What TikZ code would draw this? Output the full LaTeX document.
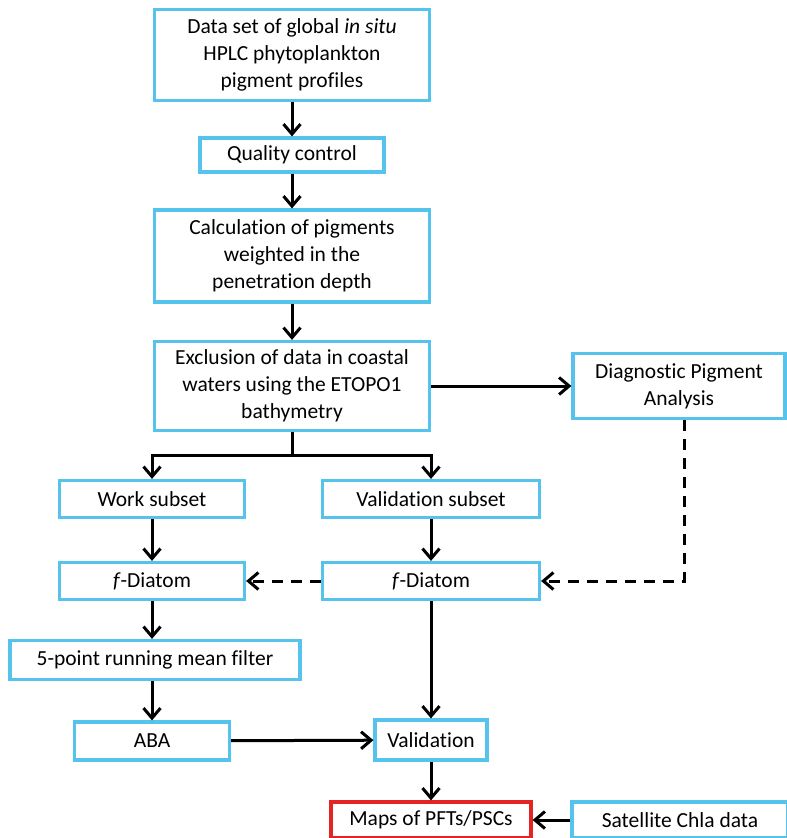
\documentclass[tikz,border=0pt]{standalone}
\usepackage{fontspec}
\setmainfont[Ligatures={NoCommon}]{Carlito}
\usepackage{tikz}
\usetikzlibrary{arrows.meta}

\definecolor{boxblue}{RGB}{85,195,235}
\definecolor{boxred}{RGB}{230,35,35}

\begin{document}
\begin{tikzpicture}[x=1pt,y=-1pt,
    font=\fontsize{21.5}{27}\selectfont,
    box/.style={draw=boxblue, line width=3.2pt, inner sep=0pt, align=center},
    flow/.style={line width=3pt, -{Straight Barb[length=10pt,width=17pt,line width=3pt]}},
    dflow/.style={flow, dash pattern=on 11pt off 8pt}]
    \useasboundingbox (0,0) rectangle (787,838);
    \node (dataset) at (292,55) [box, minimum width=275, minimum height=91] {Data set of global \textit{in situ}\\HPLC phytoplankton\\pigment profiles};
    \node (quality) at (292,155) [box, minimum width=184, minimum height=34] {Quality control};
    \node (calc) at (292,256) [box, minimum width=275, minimum height=92] {Calculation of pigments\\weighted in the\\penetration depth};
    \node (exclusion) at (292,386) [box, minimum width=275, minimum height=89] {Exclusion of data in coastal\\waters using the ETOPO1\\bathymetry};
    \node (dpa) at (679,386) [box, minimum width=212, minimum height=65] {Diagnostic Pigment\\Analysis};
    \node (work) at (152,499) [box, minimum width=185, minimum height=37] {Work subset};
    \node (valsub) at (431,499) [box, minimum width=217, minimum height=37] {Validation subset};
    \node (fdiaW) at (152,581) [box, minimum width=185, minimum height=37] {\textit{f}-Diatom};
    \node (fdiaV) at (431,581) [box, minimum width=217, minimum height=37] {\textit{f}-Diatom};
    \node (filter) at (155,660) [box, minimum width=290, minimum height=39] {5-point running mean filter};
    \node (aba) at (152,741) [box, minimum width=155, minimum height=38] {ABA};
    \node (validation) at (431,740) [box, minimum width=112, minimum height=40] {Validation};
    \node (maps) at (431,820) [box, draw=boxred, minimum width=200, minimum height=36] {Maps of PFTs/PSCs};
    \node (satellite) at (680,820) [box, minimum width=216, minimum height=36] {Satellite Chla data};
    \coordinate (split) at (292,455);
    \coordinate (dpaturn) at (684,581);
    \draw[flow] (dataset) -- (quality);
    \draw[flow] (quality) -- (calc);
    \draw[flow] (calc) -- (exclusion);
    \draw[flow] (exclusion) -- (dpa);
    \draw[line width=3pt] (exclusion) -- (split);
    \draw[flow] (split) -| (work);
    \draw[flow] (split) -| (valsub);
    \draw[flow] (work) -- (fdiaW);
    \draw[flow] (valsub) -- (fdiaV);
    \draw[dflow] (fdiaV) -- (fdiaW);
    \draw[dflow] (dpa.south -| dpaturn) |- (fdiaV);
    \draw[flow] (fdiaW) -- (fdiaW |- filter.north);
    \draw[flow] (fdiaW |- filter.south) -- (aba);
    \draw[flow] (fdiaV) -- (validation);
    \draw[flow] (aba) -- (validation);
    \draw[flow] (validation) -- (maps);
    \draw[flow] (satellite) -- (maps);
\end{tikzpicture}
\end{document}
